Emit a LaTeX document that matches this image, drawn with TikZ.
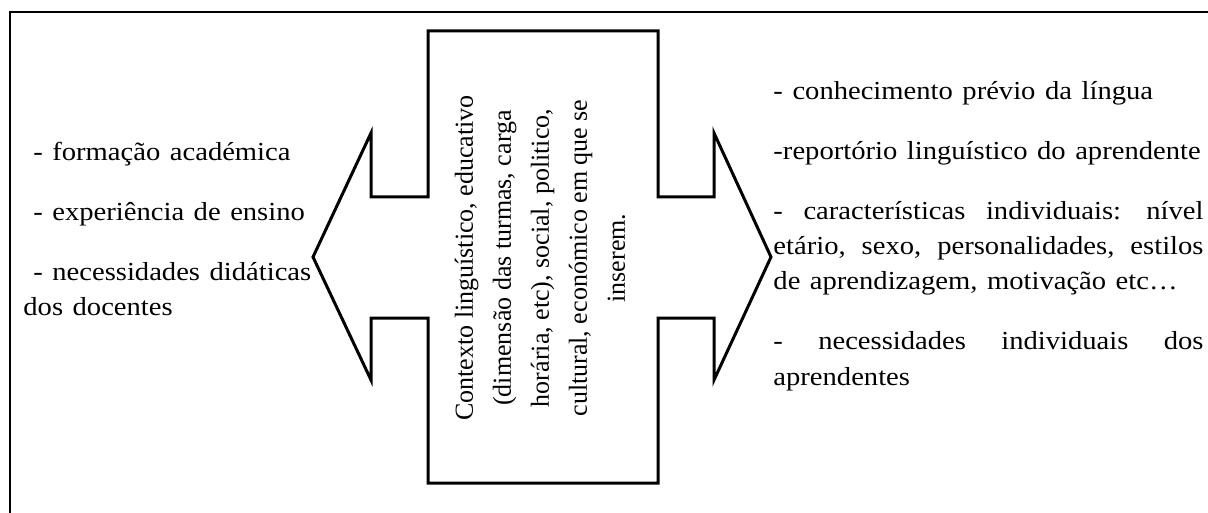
\documentclass[tikz,border=0pt]{standalone}
\usepackage{fontspec}
\setmainfont{Liberation Serif}
\tikzset{
    lista/.style={anchor=base west,align=left,inner sep=0pt,xscale=1.1,font=\fontsize{13}{17.5}\selectfont},
    seta/.style={line width=1.5pt,line join=miter}
}
\newcommand{\linhaj}[1]{\makebox[195.5pt][l]{#1}}
\begin{document}
\begin{tikzpicture}[x=0.5pt,y=-0.5pt]
        \useasboundingbox (0,0) rectangle (1208,513);
        \draw[line width=1pt](10,513) -- (10,12) -- (1208,12);
        % seta dupla
        \draw[seta](428,31) -- (658,31) -- (658,197) -- (714,197) -- (714,133) -- (771,257) -- (714,380) -- (714,318) -- (658,318) -- (658,483) -- (428,483) -- (428,318) -- (371,318) -- (371,380) -- (313,257) -- (371,133) -- (371,197) -- (428,197) -- cycle;
        \node[rotate=90,align=center,inner sep=0pt,font=\fontsize{13}{19}\selectfont](contexto) at (540,258)
            {Contexto linguístico, educativo\\(dimensão das turmas, carga\\horária, etc), social, politico,\\cultural, económico em que se\\inserem.};
        \node[lista,text width=140pt](docentes) at (23,161)
            {\hspace*{4.5pt}- formação académica\\[12.5pt]
             \hspace*{4.5pt}- experiência de ensino\\[12.5pt]
             \hspace*{4.5pt}- necessidades didáticas\\dos docentes};
        \node[lista,text width=195.5pt](aprendentes) at (773,100)
            {- conhecimento prévio da língua\\[12.5pt]
             -reportório linguístico do aprendente\\[12.5pt]
             \linhaj{- \hfill características \hfill individuais: \hfill nível}\\
             \linhaj{etário, \hfill sexo, \hfill personalidades, \hfill estilos}\\
             de aprendizagem, motivação etc…\\[12.5pt]
             \linhaj{- \hfill necessidades \hfill individuais \hfill dos}\\
             aprendentes};
\end{tikzpicture}
\end{document}
